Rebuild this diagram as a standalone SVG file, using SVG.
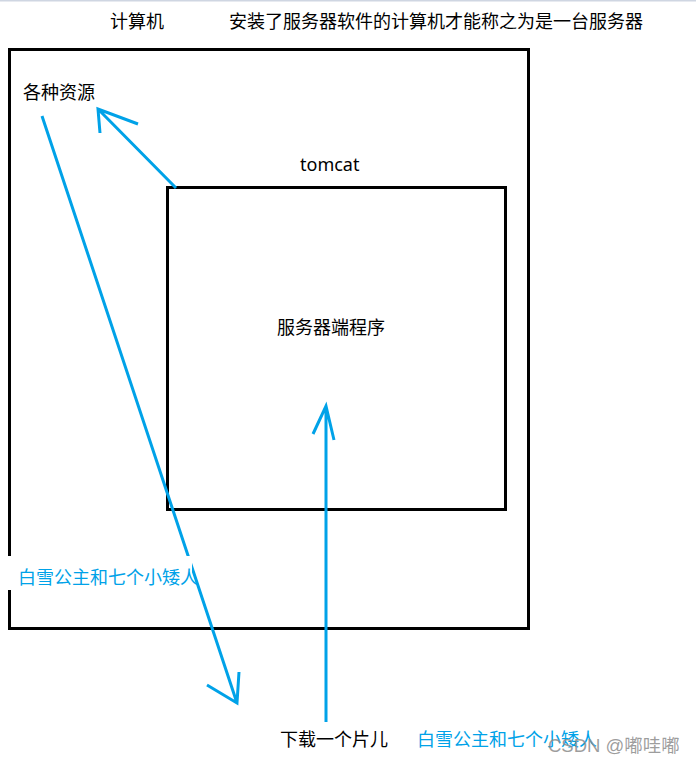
<svg xmlns="http://www.w3.org/2000/svg" width="696" height="767" viewBox="0 0 696 767">
<style>
.t{font-family:"Noto Sans","Noto Sans CJK SC",sans-serif;font-size:18px;fill:#000}
.b{fill:#00a2e8}
.box{fill:none;stroke:#000;stroke-width:3}
.c{fill:none;stroke:#00a2e8;stroke-width:3;stroke-linecap:butt;stroke-linejoin:miter}
.wm{font-family:"Liberation Sans","Noto Sans CJK SC",sans-serif;font-size:18.5px;fill:#8c8c8c;fill-opacity:0.85}
</style>
<rect width="696" height="767" fill="#fff"/>
<line x1="0" y1="0.5" x2="696" y2="0.5" stroke="#cfd6e2" stroke-width="2"/>
<text class="t" x="110" y="28">计算机</text>
<text class="t" x="229" y="28">安装了服务器软件的计算机才能称之为是一台服务器</text>
<g id="computer">
<rect class="box" x="9.5" y="49.5" width="519" height="579"/>
<text class="t" x="23" y="99">各种资源</text>
</g>
<g id="tomcat">
<text class="t" x="300" y="171">tomcat</text>
<rect class="box" x="167.5" y="187.5" width="338" height="322"/>
<text class="t" x="277" y="334">服务器端程序</text>
</g>
<g id="connectors">
<path class="c" d="M176,188 L98,109 M138,124 L98,109 L100,133"/>
<path class="c" d="M42,116 L237,703 M207,685 L237,703 L239,672"/>
<path class="c" d="M326,722 L326,406 M313,434 L326,406 L334,440"/>
</g>
<g id="label-left">
<rect x="8" y="556" width="184" height="34" fill="#fff"/>
<text class="t b" x="18" y="584">白雪公主和七个小矮人</text>
</g>
<g id="download">
<text class="t" x="280" y="746">下载一个片儿</text>
<text class="t b" x="417" y="746">白雪公主和七个小矮人</text>
</g>
<text class="wm" x="548" y="752">CSDN @嘟哇嘟</text>
</svg>
